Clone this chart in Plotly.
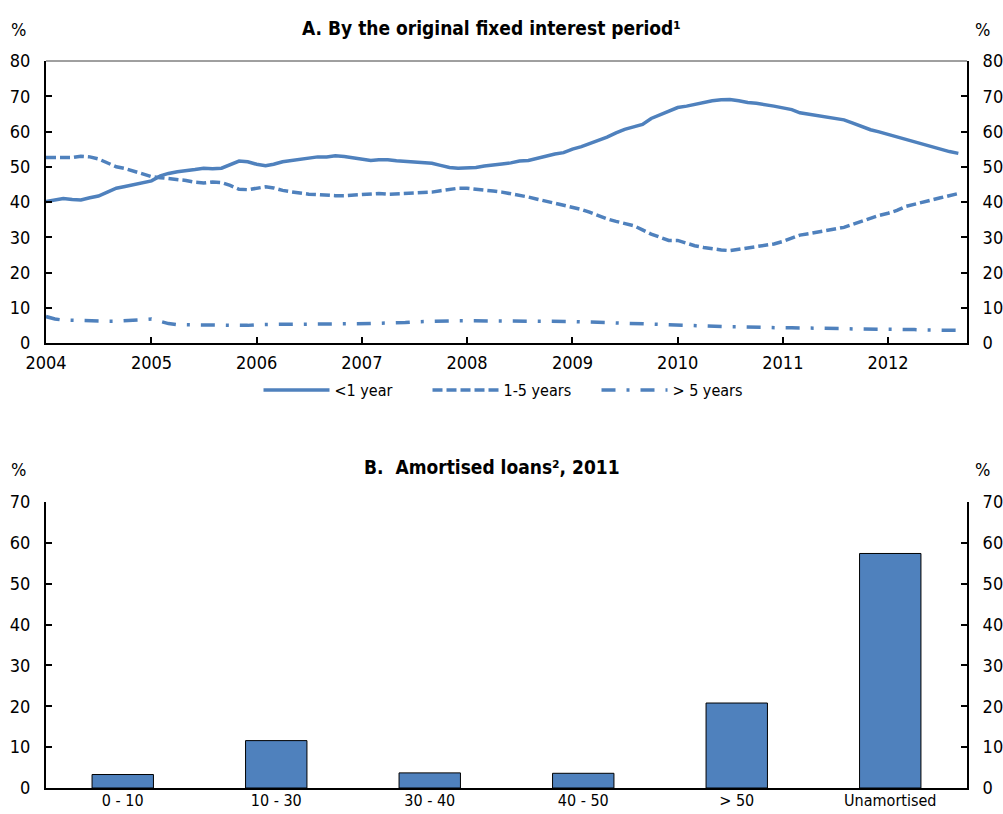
import pandas as pd
import plotly.graph_objects as go

# Monthly shares of new mortgage loans by original fixed interest period (%)
months = pd.date_range("2004-01-01", periods=105, freq="MS")

under_1y = [
    40.1, 40.5, 41.0, 40.7, 40.6, 41.2, 41.7, 42.8, 43.9, 44.4, 44.9, 45.3,
    46.0, 47.4, 48.1, 48.6, 48.8, 49.2, 49.6, 49.4, 49.6, 50.5, 51.6, 51.4,
    50.7, 50.3, 50.7, 51.4, 51.8, 52.1, 52.6, 52.8, 52.8, 53.1, 52.9, 52.6,
    52.2, 51.8, 52.0, 52.0, 51.7, 51.5, 51.4, 51.3, 51.0, 50.4, 49.8, 49.6,
    49.6, 49.8, 50.2, 50.6, 50.8, 51.1, 51.6, 51.8, 52.4, 53.1, 53.6, 54.0,
    55.0, 55.7, 56.5, 57.6, 58.4, 59.6, 60.6, 61.3, 62.0, 63.7, 64.8, 65.7,
    66.8, 67.2, 67.7, 68.2, 68.7, 69.0, 69.1, 68.7, 68.2, 68.0, 67.7, 67.2,
    66.7, 66.2, 65.3, 64.9, 64.6, 64.2, 63.9, 63.3, 62.4, 61.4, 60.5, 59.9,
    59.2, 58.3, 57.6, 57.0, 56.4, 55.7, 55.0, 54.3, 53.8,
]

from_1_to_5y = [
    52.6, 52.6, 52.4, 52.6, 53.0, 52.8, 52.2, 51.0, 50.0, 49.5, 48.8, 48.0,
    47.2, 46.9, 46.7, 46.4, 46.1, 45.6, 45.4, 45.7, 45.5, 44.7, 43.6, 43.5,
    44.0, 44.3, 44.0, 43.3, 42.9, 42.5, 42.2, 42.1, 41.9, 41.8, 41.8, 42.0,
    42.1, 42.3, 42.4, 42.2, 42.3, 42.4, 42.5, 42.6, 42.8, 43.2, 43.6, 43.9,
    43.9, 43.7, 43.4, 43.1, 42.8, 42.4, 41.9, 41.4, 40.8, 40.2, 39.7, 39.2,
    38.5, 37.9, 37.1, 36.0, 35.2, 34.5, 33.9, 33.3, 32.1, 30.9, 30.0, 29.1,
    29.1, 28.2, 27.6, 27.1, 26.7, 26.4, 26.2, 26.6, 27.0, 27.3, 27.6, 28.1,
    28.8, 29.7, 30.6, 31.0, 31.4, 31.8, 32.2, 32.8, 33.7, 34.6, 35.4, 36.2,
    36.8, 37.6, 38.7, 39.4, 39.9, 40.6, 41.2, 41.8, 42.4,
]

over_5y = [
    7.5, 6.8, 6.5, 6.4, 6.3, 6.2, 6.2, 6.2, 6.2, 6.3, 6.3, 6.6,
    6.8, 6.1, 5.5, 5.2, 5.1, 5.1, 5.1, 5.1, 5.1, 5.0, 4.9, 5.0,
    5.2, 5.3, 5.3, 5.3, 5.3, 5.3, 5.3, 5.3, 5.3, 5.3, 5.3, 5.4,
    5.4, 5.5, 5.6, 5.6, 5.7, 5.8, 6.0, 6.1, 6.2, 6.3, 6.3, 6.3,
    6.3, 6.3, 6.3, 6.3, 6.3, 6.3, 6.3, 6.3, 6.3, 6.3, 6.2, 6.2,
    6.1, 6.0, 6.0, 5.9, 5.8, 5.7, 5.6, 5.5, 5.4, 5.3, 5.2, 5.1,
    5.1, 5.0, 4.9, 4.8, 4.7, 4.7, 4.6, 4.6, 4.5, 4.5, 4.4, 4.4,
    4.3, 4.3, 4.3, 4.2, 4.2, 4.2, 4.1, 4.1, 4.0, 4.0, 4.0, 3.9,
    3.9, 3.9, 3.8, 3.8, 3.7, 3.7, 3.7, 3.6, 3.6,
]

# Amortised loans by amortisation period, 2011 (%)
amort_categories = ["0 - 10", "10 - 30", "30 - 40", "40 - 50", "> 50", "Unamortised"]
amort_shares = [3.3, 11.6, 3.7, 3.6, 20.8, 57.4]

BLUE = "#4F81BD"
FONT = "Liberation Sans Narrow, Arial Narrow, DejaVu Sans Condensed, sans-serif"
FS = 18

W, H = 1003, 814
M_L, M_R, M_T, M_B = 46, 36, 0, 26
PLOT_W = W - M_L - M_R
PLOT_H = H - M_T - M_B


def px_x(px):
    return (px - M_L) / PLOT_W


def px_y(py):
    return (H - M_B - py) / PLOT_H


fig = go.Figure()

line_specs = [
    ("<1 year", under_1y, "solid"),
    ("1-5 years", from_1_to_5y, "10px,4px"),
    ("> 5 years", over_5y, "14px,11px,3px,11px"),
]
for name, vals, dash in line_specs:
    fig.add_trace(go.Scatter(
        x=months, y=vals, name=name, mode="lines",
        line=dict(color=BLUE, width=3.5, dash=dash),
        xaxis="x", yaxis="y",
    ))

# carrier for the right-hand scale of panel A
fig.add_trace(go.Scatter(
    x=months, y=under_1y, mode="lines", line=dict(width=0),
    opacity=0, showlegend=False, hoverinfo="skip",
    xaxis="x", yaxis="y3",
))

fig.add_trace(go.Bar(
    x=amort_categories, y=amort_shares, showlegend=False,
    marker=dict(color=BLUE, line=dict(color="black", width=1)),
    xaxis="x2", yaxis="y2",
))
# carrier for the right-hand scale of panel B
fig.add_trace(go.Bar(
    x=amort_categories, y=amort_shares, showlegend=False,
    marker=dict(color="rgba(0,0,0,0)", line=dict(width=0)),
    hoverinfo="skip", xaxis="x2", yaxis="y4",
))

top_dom = [px_y(343), px_y(61)]
bot_dom = [px_y(788), px_y(502)]

yax = dict(
    showgrid=False, zeroline=False, showline=True, linecolor="black",
    linewidth=2, ticks="inside", ticklen=6, tickwidth=1.5, tickcolor="black",
    tickfont=dict(size=FS, color="black"), dtick=10, fixedrange=True,
    ticklabelstandoff=10, automargin=False,
)

fig.update_layout(
    width=W, height=H,
    margin=dict(l=M_L, r=M_R, t=M_T, b=M_B, autoexpand=False),
    paper_bgcolor="white", plot_bgcolor="white",
    font=dict(family=FONT, size=FS, color="black"),
    barmode="overlay",
    xaxis=dict(
        type="date", range=["2004-01-01", "2012-10-01"],
        tick0="2004-01-01", dtick="M12", tickformat="%Y",
        showgrid=False, zeroline=False, showline=True, linecolor="black",
        linewidth=2, ticks="inside", ticklen=6, tickwidth=1.5,
        tickcolor="black", tickfont=dict(size=FS, color="black"),
        anchor="y", domain=[0, 1], ticklabelstandoff=2, automargin=False,
    ),
    yaxis=dict(range=[0, 80], domain=top_dom, anchor="x", side="left", **yax),
    yaxis3=dict(range=[0, 80], overlaying="y", anchor="x", side="right", **yax),
    xaxis2=dict(
        type="category", range=[-0.5, 5.5], showgrid=False, zeroline=False,
        showline=True, linecolor="black", linewidth=2, ticks="",
        tickfont=dict(size=16, color="black"), anchor="y2", domain=[0, 1],
        ticklabelstandoff=-3, automargin=False,
    ),
    yaxis2=dict(range=[0, 70], domain=bot_dom, anchor="x2", side="left", **yax),
    yaxis4=dict(range=[0, 70], overlaying="y2", anchor="x2", side="right", **yax),
    bargap=0.6,
    showlegend=True,
    legend=dict(
        orientation="h", x=px_x(512), xanchor="center", y=px_y(390),
        yanchor="middle", font=dict(size=16, color="black"),
        itemwidth=66, entrywidth=88, entrywidthmode="pixels",
        bgcolor="rgba(0,0,0,0)",
    ),
)

# thin frame along the top of panel A
fig.add_shape(
    type="line", xref="x domain", yref="y domain", x0=0, x1=1, y0=1, y1=1,
    line=dict(color="#404040", width=1),
)

annots = [
    ("<b>A. By the original fixed interest period¹</b>", 491, 28, 19),
    ("<b>B.  Amortised loans², 2011</b>", 492, 467, 19),
    ("%", 18, 30, FS), ("%", 982, 30, FS),
    ("%", 18, 470, FS), ("%", 982, 470, FS),
]
for text, px, py, size in annots:
    fig.add_annotation(
        text=text, xref="paper", yref="paper",
        x=px_x(px), y=px_y(py),
        xanchor="center", yanchor="middle", showarrow=False,
        font=dict(size=size, color="black", family=FONT),
    )

fig.write_html("out.html")
